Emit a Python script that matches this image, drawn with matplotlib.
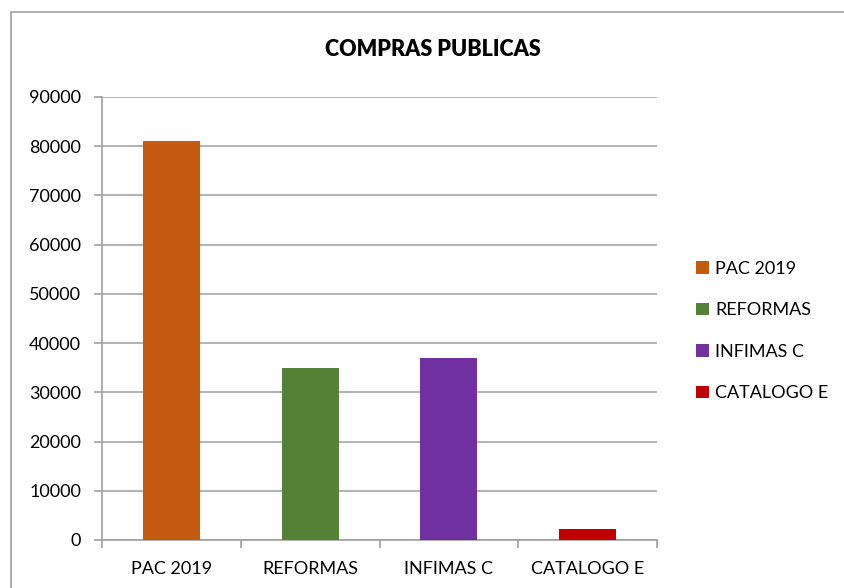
import matplotlib
matplotlib.use("Agg")
import matplotlib.pyplot as plt
from matplotlib.patches import Rectangle

categories = ["PAC 2019", "REFORMAS", "INFIMAS C", "CATALOGO E"]
values = [81000, 35000, 37000, 2200]
colors = ["#C55A11", "#538135", "#7030A0", "#C00000"]
yticks = [0, 10000, 20000, 30000, 40000, 50000, 60000, 70000, 80000, 90000]

plt.rcParams['font.family'] = ['Lato', 'DejaVu Sans']

W, H = 844, 588
fig = plt.figure(figsize=(W/100, H/100), dpi=100)
fig.patch.set_facecolor("white")

# chart-area border (partially cropped)
fig.patches.append(Rectangle((11/W, -0.05), 1.2, 1 - 12/H + 0.05, transform=fig.transFigure,
                             fill=False, edgecolor="#a0a0a0", linewidth=1.2))

left, right, top, bottom = 102, 657, 97, 540
ax = fig.add_axes([left/W, 1 - bottom/H, (right-left)/W, (bottom-top)/H])

x = range(len(categories))
bars = ax.bar(x, values, width=0.41, color=colors, label=categories, zorder=3)

fs = 13
ax.set_xlim(-0.5, len(categories) - 0.5)
ax.set_ylim(0, 90000)
ax.set_yticks(yticks)
ax.set_yticklabels([str(v) for v in yticks], fontsize=fs)
ax.set_xticks(list(x))
ax.set_xticklabels(categories, fontsize=fs)
ax.set_xticks([i - 0.5 for i in range(len(categories) + 1)], minor=True)
ax.tick_params(axis='x', which='major', length=0, pad=15)
ax.tick_params(axis='x', which='minor', length=6, color="#a0a0a0", width=1.2)
ax.tick_params(axis='y', length=6, color="#a0a0a0", width=1.2, pad=9)

ax.grid(axis='y', color="#a6a6a6", linewidth=1.2, zorder=0)
for s in ['top', 'right']:
    ax.spines[s].set_visible(False)
for s in ['left', 'bottom']:
    ax.spines[s].set_color("#a0a0a0")
    ax.spines[s].set_linewidth(1.2)

fig.text(433/W, 1 - 49/H, "COMPRAS PUBLICAS", ha='center', va='center',
         fontsize=15.5, fontweight='heavy')

leg = fig.legend(handles=bars, labels=categories, loc='center left',
                 bbox_to_anchor=(680/W, 1 - 331/H), frameon=False, fontsize=fs,
                 handlelength=0.7, handleheight=0.7, handletextpad=0.35,
                 labelspacing=1.42)

fig.savefig("out.png", dpi=100)
